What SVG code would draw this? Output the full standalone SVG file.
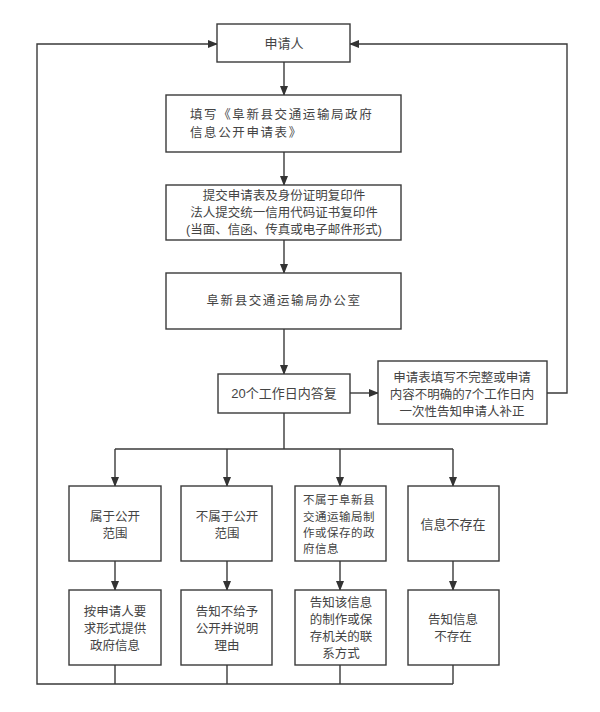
<svg xmlns="http://www.w3.org/2000/svg" width="600" height="712" viewBox="0 0 600 712">
<defs>
<marker id="ah" markerWidth="10" markerHeight="8" refX="9" refY="4" orient="auto" markerUnits="userSpaceOnUse">
<path d="M0,0 L10,4 L0,8 Z" fill="#333"/>
</marker>
<style>
.box{fill:#fff;stroke:#3a3a3a;stroke-width:1.4}
.t{font-family:"Liberation Sans","Noto Sans CJK SC",sans-serif;font-size:13px;fill:#444;text-anchor:middle}
.m{font-family:"Liberation Sans","Noto Sans CJK SC",sans-serif;font-size:12.5px;fill:#444;text-anchor:middle}
.ts{font-family:"Liberation Sans","Noto Sans CJK SC",sans-serif;font-size:12.5px;fill:#444;letter-spacing:1.6px}
.tl{font-family:"Liberation Sans","Noto Sans CJK SC",sans-serif;font-size:11.5px;fill:#444;letter-spacing:0.5px}
.c{fill:none;stroke:#3a3a3a;stroke-width:1.4}
</style>
</defs>
<rect width="600" height="712" fill="#fff"/>
<g id="connectors">
<line class="c" x1="284" y1="62" x2="284" y2="95" marker-end="url(#ah)"/>
<line class="c" x1="284" y1="152" x2="284" y2="185" marker-end="url(#ah)"/>
<line class="c" x1="284" y1="240" x2="284" y2="273" marker-end="url(#ah)"/>
<line class="c" x1="284" y1="329" x2="284" y2="374" marker-end="url(#ah)"/>
<line class="c" x1="350" y1="393" x2="378" y2="393" marker-end="url(#ah)"/>
<polyline class="c" points="547,393 567,393 567,44 350,44" marker-end="url(#ah)"/>
<polyline class="c" points="284,413 284,449"/>
<polyline class="c" points="115,449 453,449"/>
<line class="c" x1="115" y1="449" x2="115" y2="486" marker-end="url(#ah)"/>
<line class="c" x1="227" y1="449" x2="227" y2="486" marker-end="url(#ah)"/>
<line class="c" x1="340" y1="449" x2="340" y2="486" marker-end="url(#ah)"/>
<line class="c" x1="453" y1="449" x2="453" y2="486" marker-end="url(#ah)"/>
<line class="c" x1="115" y1="561" x2="115" y2="590" marker-end="url(#ah)"/>
<line class="c" x1="227" y1="561" x2="227" y2="590" marker-end="url(#ah)"/>
<line class="c" x1="340" y1="561" x2="340" y2="590" marker-end="url(#ah)"/>
<line class="c" x1="453" y1="561" x2="453" y2="590" marker-end="url(#ah)"/>
<line class="c" x1="115" y1="665" x2="115" y2="684"/>
<line class="c" x1="227" y1="665" x2="227" y2="684"/>
<line class="c" x1="340" y1="665" x2="340" y2="684"/>
<line class="c" x1="453" y1="665" x2="453" y2="684"/>
<polyline class="c" points="453,684 37,684 37,44 217,44" marker-end="url(#ah)"/>
</g>
<g id="applicant">
<rect class="box" x="217" y="24" width="133" height="38"/>
<text class="t" x="284" y="48">申请人</text>
</g>
<g id="fill-form">
<rect class="box" x="166" y="95" width="235" height="57"/>
<text class="ts" x="190" y="119">填写《阜新县交通运输局政府</text>
<text class="ts" x="190" y="137">信息公开申请表》</text>
</g>
<g id="submit">
<rect class="box" x="166" y="185" width="235" height="55"/>
<text class="m" x="284" y="200">提交申请表及身份证明复印件</text>
<text class="m" x="284" y="217">法人提交统一信用代码证书复印件</text>
<text class="m" x="284" y="234">(当面、信函、传真或电子邮件形式)</text>
</g>
<g id="office">
<rect class="box" x="166" y="273" width="235" height="56"/>
<text class="ts" x="284" y="305" text-anchor="middle">阜新县交通运输局办公室</text>
</g>
<g id="reply">
<rect class="box" x="218" y="374" width="132" height="39"/>
<text class="t" x="284" y="398">20个工作日内答复</text>
</g>
<g id="supplement">
<rect class="box" x="378" y="361" width="169" height="63"/>
<text class="m" x="462" y="382">申请表填写不完整或申请</text>
<text class="m" x="462" y="399">内容不明确的7个工作日内</text>
<text class="m" x="462" y="416">一次性告知申请人补正</text>
</g>
<g id="public">
<rect class="box" x="69" y="486" width="92" height="75"/>
<text class="m" x="115" y="521">属于公开</text>
<text class="m" x="115" y="538">范围</text>
</g>
<g id="not-public">
<rect class="box" x="181" y="486" width="91" height="75"/>
<text class="m" x="227" y="521">不属于公开</text>
<text class="m" x="227" y="538">范围</text>
</g>
<g id="not-ours">
<rect class="box" x="295" y="486" width="91" height="75"/>
<text class="tl" x="303" y="504">不属于阜新县</text>
<text class="tl" x="303" y="521">交通运输局制</text>
<text class="tl" x="303" y="537">作或保存的政</text>
<text class="tl" x="303" y="553">府信息</text>
</g>
<g id="not-exist">
<rect class="box" x="408" y="486" width="91" height="75"/>
<text class="t" x="453" y="529">信息不存在</text>
</g>
<g id="provide">
<rect class="box" x="69" y="590" width="92" height="75"/>
<text class="m" x="115" y="616">按申请人要</text>
<text class="m" x="115" y="633">求形式提供</text>
<text class="m" x="115" y="650">政府信息</text>
</g>
<g id="refuse">
<rect class="box" x="181" y="590" width="91" height="75"/>
<text class="m" x="227" y="616">告知不给予</text>
<text class="m" x="227" y="633">公开并说明</text>
<text class="m" x="227" y="650">理由</text>
</g>
<g id="inform-agency">
<rect class="box" x="295" y="590" width="91" height="75"/>
<text class="m" x="341" y="607">告知该信息</text>
<text class="m" x="341" y="624">的制作或保</text>
<text class="m" x="341" y="641">存机关的联</text>
<text class="m" x="341" y="658">系方式</text>
</g>
<g id="inform-not-exist">
<rect class="box" x="408" y="590" width="91" height="75"/>
<text class="m" x="453" y="624">告知信息</text>
<text class="m" x="453" y="641">不存在</text>
</g>
</svg>
